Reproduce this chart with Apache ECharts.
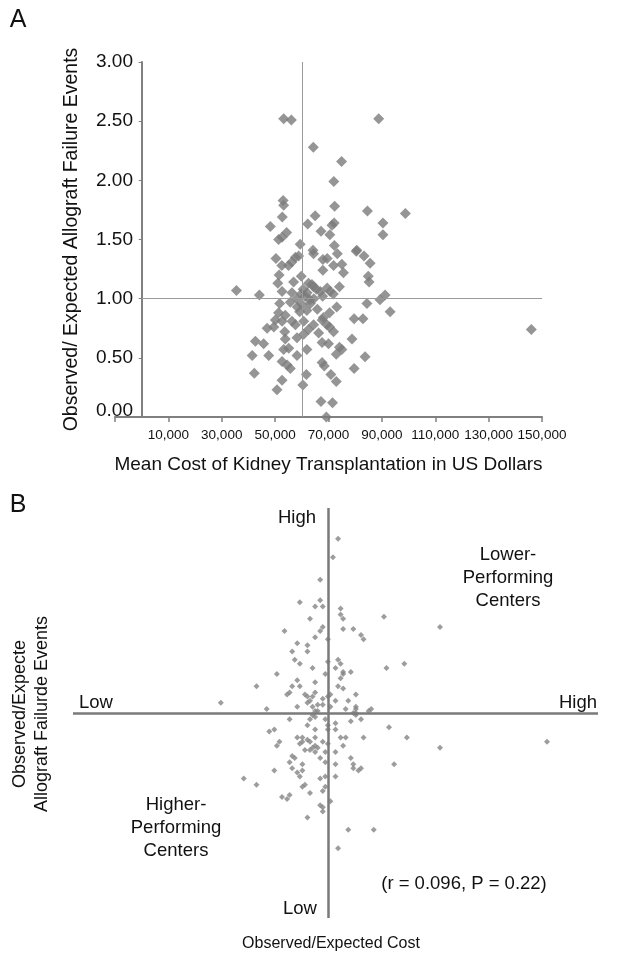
<!DOCTYPE html>
<html>
<head>
<meta charset="utf-8">
<title>Cost vs allograft failure</title>
<script src="https://cdn.jsdelivr.net/npm/echarts@6/dist/echarts.min.js"></script>
<style>
  html, body { margin: 0; padding: 0; background: #fff; }
  #chart { width: 617px; height: 962px; }
</style>
</head>
<body>
<div id="chart"></div>
<script>
// panel A: mean cost (US$) vs observed/expected allograft failure
const costA = [
  53200, 56100, 88800, 64300, 74900, 72000, 53000, 53200, 72300, 84600, 98800, 65000, 52700, 48200,
  62200, 72100, 71300, 90400, 67200, 54300, 52600, 51300, 70500, 90400, 59400, 72200, 64200, 80600,
  64400, 67900, 69500, 73300, 71900, 75000, 75600, 67900, 80400, 83300, 85600, 50300, 52500, 55000,
  56300, 58800, 57600, 51500, 59800, 84900,
  85200, 51000, 56900, 62500, 64400, 74100, 70600, 91200, 89300, 35500, 44100, 52600, 56300, 58200,
  61300, 66900, 63800, 60500, 62000, 64500, 65500, 59800, 63000, 67800, 69500, 71800,
  84400, 93100, 73100, 70400, 51700, 55700, 60100, 63200, 51300, 53800, 59200, 61900, 50100, 52600,
  56300, 60700, 67600, 79600, 82900, 68100, 65800, 58300,
  57600, 62500, 64400, 47000, 49500, 53600, 53800, 58200, 42600, 45700, 70400, 71900, 69400, 66300,
  146000, 78800, 67600, 70000, 60700,
  74100, 75000, 72900, 61900, 83700, 41400, 47600, 53200, 55100, 58200, 52600, 54500, 55700, 67600,
  68400, 79600, 42200, 61700, 70900, 72900, 52600, 60400, 50700, 67200, 71500, 69200
];
const failA = [
  2.52, 2.51, 2.52, 2.28, 2.16, 1.99, 1.83, 1.79, 1.78, 1.74, 1.72, 1.70, 1.69, 1.61,
  1.63, 1.64, 1.62, 1.64, 1.57, 1.56, 1.52, 1.50, 1.54, 1.54, 1.46, 1.45, 1.41, 1.41,
  1.38, 1.33, 1.34, 1.38, 1.28, 1.29, 1.22, 1.24, 1.40, 1.36, 1.30, 1.34, 1.28, 1.28,
  1.31, 1.36, 1.35, 1.20, 1.19, 1.19,
  1.14, 1.13, 1.14, 1.13, 1.10, 1.10, 1.06, 1.03, 0.99, 1.07, 1.03, 1.06, 1.05, 1.00,
  1.02, 1.06, 1.12, 1.08, 1.05, 1.00, 1.08, 1.04, 0.99, 1.02, 1.09, 1.04,
  0.96, 0.89, 0.93, 0.88, 0.96, 0.97, 0.95, 0.96, 0.88, 0.86, 0.89, 0.90, 0.82, 0.81,
  0.81, 0.81, 0.82, 0.83, 0.83, 0.84, 0.91, 0.93,
  0.78, 0.74, 0.78, 0.75, 0.76, 0.72, 0.66, 0.67, 0.64, 0.62, 0.76, 0.72, 0.78, 0.71,
  0.74, 0.66, 0.63, 0.62, 0.70,
  0.59, 0.57, 0.53, 0.57, 0.51, 0.52, 0.52, 0.57, 0.58, 0.52, 0.47, 0.44, 0.41, 0.46,
  0.43, 0.41, 0.37, 0.36, 0.36, 0.30, 0.31, 0.27, 0.23, 0.13, 0.12, 0.00
];
const meanCostA = 60000;
const refFailA = 1.0;

// panel B: observed/expected cost vs observed/expected failure
const costB = [
  1.04, 1.02, 0.97, 0.89, 0.97, 0.95, 0.98, 1.05, 1.05, 1.06, 1.22, 1.44, 0.93, 0.98, 0.97, 0.83,
  1.06, 1.10, 0.95, 1.13, 1.14, 1.00, 0.88, 0.92, 0.86, 0.92, 0.87, 0.89, 0.94, 1.04, 1.00, 1.05,
  1.03, 1.23, 1.30, 0.80, 0.99, 1.06, 1.06, 1.05, 1.09, 0.72, 0.88, 0.86, 0.89, 0.95, 1.04, 1.06,
  0.85, 0.91, 0.95, 1.01, 1.11, 0.84, 0.92, 1.00, 0.98, 1.03, 1.08, 1.07, 1.11, 1.11, 1.16, 1.17,
  1.10, 1.11, 1.11, 1.09, 1.13, 1.24, 1.07, 1.05, 1.14, 1.06, 1.44, 1.86, 1.09, 0.58, 0.76, 0.88,
  0.92, 0.93, 0.94, 0.94, 0.96, 0.98, 1.01, 0.95, 0.96, 0.94, 0.95, 0.93, 0.85, 0.99, 0.92, 0.95,
  1.00, 1.00, 1.03, 1.03, 0.77, 0.79, 0.88, 0.90, 0.92, 0.95, 0.98, 0.81, 0.80, 0.89, 0.90, 0.93,
  0.95, 0.94, 0.96, 1.00, 0.91, 0.93, 0.95, 0.99, 1.03, 1.31, 0.86, 0.87, 0.85, 0.97, 0.99, 1.26,
  0.79, 0.86, 0.90, 0.90, 1.03, 1.10, 1.10, 1.12, 1.13, 0.88, 0.89, 0.67, 0.72, 0.97, 0.99, 1.03,
  0.90, 0.91, 0.93, 0.98, 0.99, 0.82, 0.84, 0.85, 1.01, 0.97, 0.98, 0.98, 0.92, 1.08, 1.18, 1.04
];
const failB = [
  1.85, 1.76, 1.65, 1.54, 1.55, 1.52, 1.52, 1.51, 1.48, 1.46, 1.47, 1.42, 1.46, 1.42, 1.40, 1.40,
  1.41, 1.41, 1.37, 1.38, 1.36, 1.36, 1.34, 1.33, 1.30, 1.30, 1.26, 1.24, 1.22, 1.26, 1.25, 1.24,
  1.22, 1.22, 1.24, 1.19, 1.19, 1.20, 1.19, 1.17, 1.20, 1.13, 1.16, 1.13, 1.13, 1.15, 1.13, 1.12,
  1.10, 1.09, 1.10, 1.09, 1.09, 1.09, 1.08, 1.08, 1.07, 1.06, 1.06, 1.02, 1.02, 1.03, 1.01, 1.02,
  1.00, 0.99, 1.00, 0.96, 0.97, 0.93, 0.88, 0.88, 0.88, 0.84, 0.83, 0.86, 0.78, 1.05, 1.02, 1.03,
  1.05, 1.06, 1.08, 1.03, 1.04, 1.04, 1.03, 1.01, 1.01, 0.99, 0.98, 0.97, 0.97, 0.97, 0.94, 0.92,
  0.94, 0.92, 0.95, 0.92, 0.91, 0.92, 0.88, 0.88, 0.87, 0.88, 0.86, 0.86, 0.84, 0.85, 0.86, 0.86,
  0.84, 0.83, 0.83, 0.85, 0.82, 0.82, 0.81, 0.81, 0.81, 0.88, 0.79, 0.78, 0.76, 0.78, 0.76, 0.75,
  0.72, 0.73, 0.75, 0.72, 0.75, 0.75, 0.73, 0.72, 0.73, 0.71, 0.69, 0.68, 0.65, 0.68, 0.69, 0.69,
  0.64, 0.65, 0.61, 0.62, 0.64, 0.59, 0.58, 0.60, 0.57, 0.55, 0.54, 0.52, 0.49, 0.43, 0.43, 0.34
];
const refCostB = 1.0;
const refFailB = 1.0;

const fontFam = '"Liberation Sans", Arial, sans-serif';
const txt = '#111';
const zip = (xs, ys) => xs.map((x, i) => [x, ys[i]]);

const chart = echarts.init(document.getElementById('chart'));

function label(text, x, y, size, extra) {
  return Object.assign({
    type: 'text',
    x: x,
    y: y,
    silent: true,
    style: {
      text: text,
      fill: txt,
      font: size + 'px ' + fontFam,
      textAlign: 'center',
      textVerticalAlign: 'middle',
      lineHeight: Math.round(size * 1.22)
    }
  }, extra || {});
}

const option = {
  animation: false,
  backgroundColor: '#fff',
  textStyle: { fontFamily: fontFam },
  grid: [
    { left: 115, top: 62, width: 427, height: 355 },
    { left: 73, top: 508, width: 525, height: 410 }
  ],
  xAxis: [
    {
      gridIndex: 0,
      type: 'value',
      min: -10000,
      max: 150000,
      interval: 20000,
      name: 'Mean Cost of Kidney Transplantation in US Dollars',
      nameLocation: 'middle',
      nameGap: 38,
      nameTextStyle: { fontSize: 19, color: txt },
      axisLine: { lineStyle: { color: '#808080', width: 2 } },
      axisTick: { length: 5, lineStyle: { color: '#808080', width: 1.5 } },
      axisLabel: {
        fontSize: 13.5,
        color: txt,
        margin: 11,
        formatter: (v) => (v < 0 ? '' : v.toLocaleString('en-US'))
      },
      splitLine: { show: false }
    },
    { gridIndex: 1, type: 'value', min: 0, max: 2.06, show: false }
  ],
  yAxis: [
    {
      gridIndex: 0,
      type: 'value',
      min: 0,
      max: 3,
      interval: 0.5,
      name: 'Observed/ Expected Allograft Failure Events',
      nameLocation: 'middle',
      nameGap: 33,
      nameRotate: 90,
      nameTextStyle: { fontSize: 19.5, color: txt },
      axisLine: { show: true, lineStyle: { color: '#808080', width: 2 } },
      axisTick: { show: true, length: 3, lineStyle: { color: '#808080' } },
      axisLabel: {
        fontSize: 19,
        color: txt,
        margin: -18,
        // the bottom label sits just above the x axis line
        formatter: (v) => (v === 0 ? '{z|' + v.toFixed(2) + '}' : v.toFixed(2)),
        rich: { z: { fontSize: 19, color: txt, padding: [0, 0, 12, 0] } }
      },
      splitLine: { show: false }
    },
    { gridIndex: 1, type: 'value', min: 0, max: 2, show: false }
  ],
  series: [
    {
      type: 'scatter',
      xAxisIndex: 0,
      yAxisIndex: 0,
      clip: false,
      symbol: 'diamond',
      symbolSize: 11,
      itemStyle: { color: '#7b7b7b' },
      data: zip(costA, failA),
      markLine: {
        silent: true,
        symbol: 'none',
        label: { show: false },
        lineStyle: { color: '#9a9a9a', width: 1, type: 'solid' },
        data: [
          [{ coord: [meanCostA, 0] }, { coord: [meanCostA, 3] }],
          [{ coord: [0, refFailA] }, { coord: [150000, refFailA] }]
        ]
      }
    },
    {
      type: 'scatter',
      xAxisIndex: 1,
      yAxisIndex: 1,
      clip: false,
      symbol: 'diamond',
      symbolSize: 6,
      itemStyle: { color: '#858585' },
      data: zip(costB, failB),
      markLine: {
        silent: true,
        symbol: 'none',
        label: { show: false },
        lineStyle: { color: '#7a7a7a', width: 2.5, type: 'solid' },
        data: [
          [{ coord: [refCostB, 0] }, { coord: [refCostB, 2] }],
          [{ coord: [0, refFailB] }, { coord: [2.06, refFailB] }]
        ]
      }
    }
  ],
  graphic: [
    label('A', 18, 20, 25),
    label('B', 18, 505, 25),
    label('High', 297, 518, 18.5),
    label('Lower-\nPerforming\nCenters', 508, 578, 18.5),
    label('Low', 96, 703, 18.5),
    label('High', 578, 703, 18.5),
    label('Higher-\nPerforming\nCenters', 176, 828, 18.5),
    label('(r = 0.096, P = 0.22)', 464, 884, 18.5),
    label('Low', 300, 909, 18.5),
    label('Observed/Expecte\nAllograft Failurde Events', 31, 714, 18, { rotation: Math.PI / 2 }),
    label('Observed/Expected Cost', 331, 944, 16)
  ]
};

chart.setOption(option);
</script>
</body>
</html>
